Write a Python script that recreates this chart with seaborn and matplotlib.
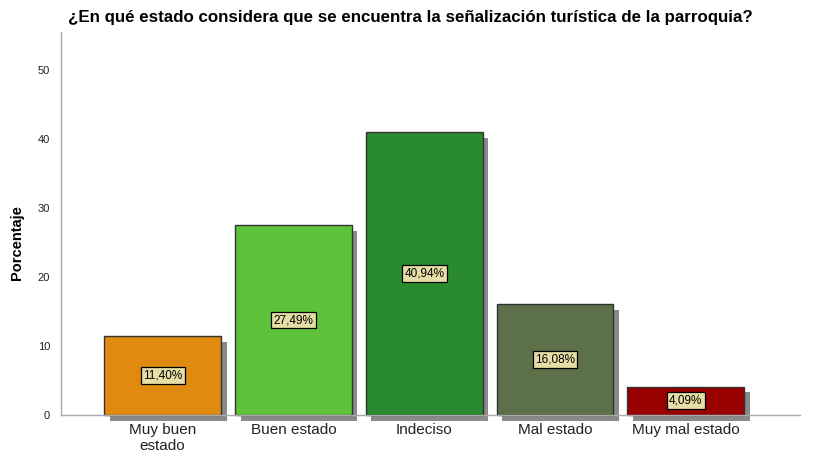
import numpy as np
import pandas as pd
import matplotlib
matplotlib.use("Agg")
import matplotlib.pyplot as plt
import matplotlib.patheffects as pe
import seaborn as sns

# data
categorias = ["Muy buen\nestado", "Buen estado", "Indeciso", "Mal estado", "Muy mal estado"]
porcentajes = [11.40, 27.49, 40.94, 16.08, 4.09]
colores = ["#e08a10", "#5ec23a", "#2a8a2e", "#5c704a", "#990000"]
etiquetas = ["11,40%", "27,49%", "40,94%", "16,08%", "4,09%"]

df = pd.DataFrame({"categoria": categorias, "porcentaje": porcentajes})

sns.set_theme(style="white")
plt.rcParams["font.family"] = ["Liberation Sans", "DejaVu Sans"]

fig, ax = plt.subplots(figsize=(8.16, 4.57), dpi=100)
fig.subplots_adjust(left=0.075, right=0.98, top=0.93, bottom=0.092)

sns.barplot(data=df, x="categoria", y="porcentaje", hue="categoria",
            palette=colores, width=0.893, edgecolor="#333333", linewidth=1,
            legend=False, ax=ax, saturation=1)

for bar in ax.patches:
    bar.set_clip_on(False)
    bar.set_path_effects([pe.SimplePatchShadow(offset=(4, -4), shadow_rgbFace="#8a8a8a", alpha=1),
                          pe.Normal()])

for i, (v, t) in enumerate(zip(porcentajes, etiquetas)):
    ax.text(i, v / 2, t, ha="center", va="center", fontsize=8.5, color="black",
            bbox=dict(boxstyle="square,pad=0.2", facecolor="#e6dea6", edgecolor="black", linewidth=0.9))

ax.set_xlim(-0.775, 4.87)
ax.set_ylim(0, 55.5)
ax.set_yticks([0, 10, 20, 30, 40, 50])
ax.tick_params(axis="y", labelsize=8, colors="#222222", length=0, pad=8)
ax.tick_params(axis="x", labelsize=11, labelcolor="#222222", length=3, color="#999999", pad=3)

for s in ["top", "right"]:
    ax.spines[s].set_visible(False)
for s in ["left", "bottom"]:
    ax.spines[s].set_color("#aaaaaa")
    ax.spines[s].set_linewidth(1)
    ax.spines[s].set_zorder(5)

ax.set_xlabel("")
ax.set_ylabel("Porcentaje", fontsize=10.5, fontweight="bold", color="black")
ax.yaxis.set_label_coords(-0.05, 0.45)

fig.text(0.083, 0.962, "¿En qué estado considera que se encuentra la señalización turística de la parroquia?",
         fontsize=12.2, fontweight="bold", ha="left", va="center", color="black")

fig.savefig("out.png", dpi=100)
